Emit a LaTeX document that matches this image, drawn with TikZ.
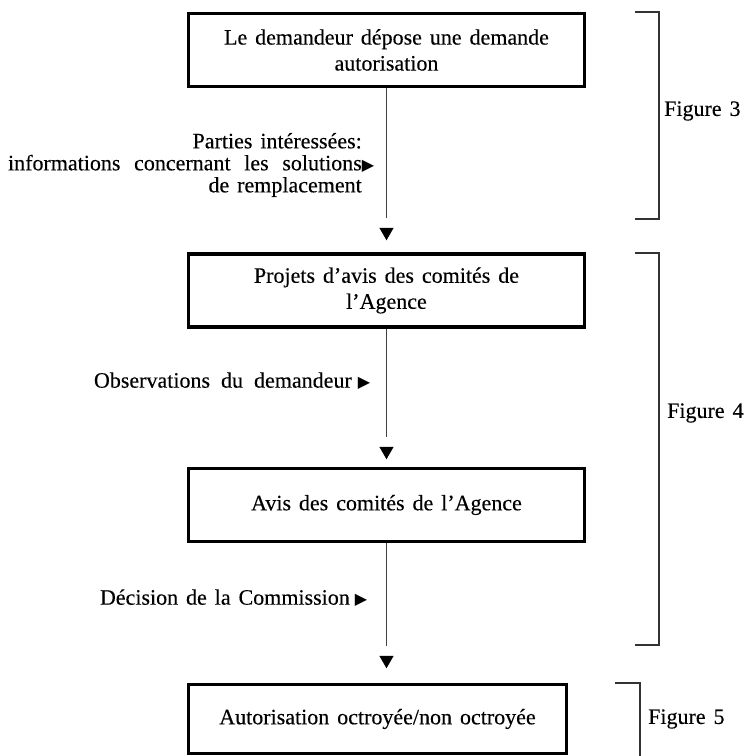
\documentclass[tikz,border=0pt]{standalone}
\usepackage{fontspec}
\setmainfont[FakeBold=0.25]{Liberation Serif}
\newfontfamily\symf{DejaVu Sans}
\usetikzlibrary{shapes.geometric}
\newcommand{\rtri}{{\symf\fontsize{16}{16}\selectfont ▶}}
\newcommand{\boxfont}{\fontsize{22}{26}\selectfont\spaceskip=0.36em plus 0.1em\relax}
\newcommand{\lblfont}{\fontsize{22}{22}\selectfont\spaceskip=0.36em plus 0.1em\relax}
\begin{document}
\begin{tikzpicture}[x=1pt,y=-1pt,
  every node/.style={font=\boxfont},
  stepbox/.style={draw=black,line width=3.3pt,rectangle,inner sep=0pt,align=center,
    minimum width=396pt,minimum height=73pt},
  lbl/.style={align=right,anchor=east,inner sep=0pt,font=\lblfont},
  fig/.style={anchor=west,inner sep=0pt},
  conn/.style={draw=black!75,line width=0.8pt},
  tip/.style={regular polygon,regular polygon sides=3,shape border rotate=180,
    fill=black,draw=none,inner sep=0pt,minimum size=16.5pt},
  brk/.style={draw=black!80,line width=1.2pt}]
\useasboundingbox (0,0) rectangle (747,756);

% boxes
\node[stepbox] (b1) at (386.5,50) {Le demandeur dépose une demande\\autorisation};
\node[stepbox] (b2) at (386.5,290.5) {Projets d’avis des comités de\\l’Agence};
\node[stepbox] (b3) at (386.5,505) {Avis des comités de l’Agence};
\node[stepbox,minimum width=378pt,minimum height=69pt] (b4) at (377.5,719) {Autorisation octroyée/non octroyée};

% arrow heads
\node[tip] (t1) at (386.5,232) {};
\node[tip] (t2) at (386.5,451) {};
\node[tip] (t3) at (386.5,660) {};

% connectors
\draw[conn] (b1.south) -- ([yshift=10pt]t1.north);
\draw[conn] (b2.south) -- ([yshift=10pt]t2.north);
\draw[conn] (b3.south) -- ([yshift=10pt]t3.north);

% side labels
\node[lbl] (l1) at (362,165) {Parties intéressées:\\{\spaceskip=0.62em plus 0.1em\relax informations concernant les solutions}\rlap{\rtri}\\de remplacement};
\node[lbl] (l2) at (352,381) {{\spaceskip=0.5em plus 0.1em\relax Observations du demandeur}\rlap{\hspace{6pt}\rtri}};
\node[lbl] (l3) at (350,598) {Décision de la Commission\rlap{\hspace{5pt}\rtri}};

% brackets
\draw[brk] (635,12) -- (659,12) -- (659,219) -- (635,219);
\draw[brk] (635,253) -- (659,253) -- (659,645) -- (635,645);
\draw[brk] (615,683) -- (640,683) -- (640,757);

\node[fig] (f3) at (664,111) {Figure 3};
\node[fig] (f4) at (667,413) {Figure 4};
\node[fig] (f5) at (648,719) {Figure 5};
\end{tikzpicture}
\end{document}
